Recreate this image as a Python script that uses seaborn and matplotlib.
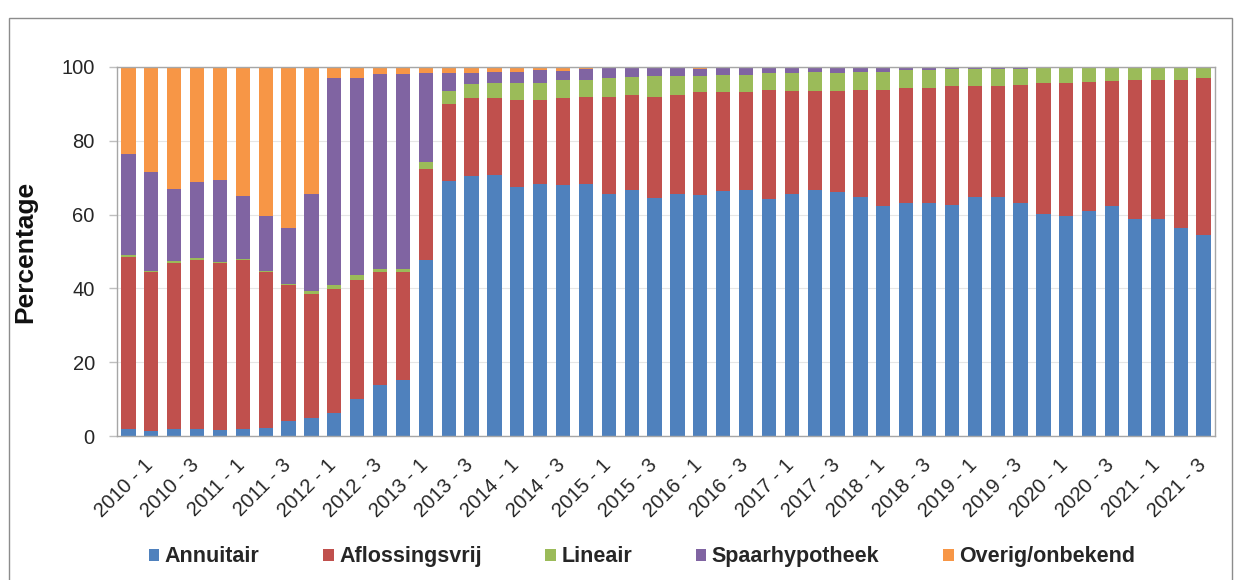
import numpy as np
import pandas as pd
import seaborn as sns
import matplotlib.pyplot as plt
from matplotlib.patches import Patch, Rectangle
from matplotlib.transforms import ScaledTranslation

# quarters 2010-1 .. 2021-4
jaren = list(range(2010, 2022))
kwartalen = [f"{j} - {k}" for j in jaren for k in range(1, 5)]

annuitair = [1.8, 1.4, 1.8, 1.8, 1.6, 2.0, 2.3, 4.1, 5.0, 6.3, 10.0, 13.9,
             15.1, 47.8, 69.0, 70.4, 70.7, 67.5, 68.2, 68.1, 68.4, 65.7, 66.6, 64.5,
             65.5, 65.2, 66.3, 66.6, 64.3, 65.5, 66.6, 66.1, 64.8, 62.2, 63.1, 63.1,
             62.7, 64.8, 64.8, 63.1, 60.2, 59.6, 61.0, 62.2, 58.7, 58.9, 56.4, 54.5]
aflossingsvrij = [46.7, 43.0, 45.1, 46.0, 45.3, 45.7, 42.1, 36.8, 33.5, 33.6, 32.3, 30.5,
                  29.3, 24.5, 21.1, 21.1, 20.8, 23.5, 22.8, 23.4, 23.5, 26.2, 25.8, 27.4,
                  26.9, 28.1, 27.0, 26.7, 29.5, 28.0, 26.9, 27.4, 29.1, 31.6, 31.3, 31.3,
                  32.1, 30.0, 30.0, 32.1, 35.4, 36.0, 35.0, 34.0, 37.8, 37.7, 40.2, 42.4]
lineair = [0.5, 0.3, 0.4, 0.4, 0.3, 0.2, 0.3, 0.4, 0.9, 0.9, 1.4, 0.9,
           0.9, 2.0, 3.5, 3.8, 4.2, 4.7, 4.7, 5.1, 4.7, 5.2, 5.0, 5.7,
           5.2, 4.3, 4.5, 4.5, 4.5, 4.8, 5.2, 5.0, 4.8, 4.9, 4.8, 4.8,
           4.6, 4.6, 4.6, 4.3, 4.0, 4.0, 3.8, 3.6, 3.3, 3.2, 3.2, 2.9]
spaarhypotheek = [27.5, 26.9, 19.7, 20.5, 22.1, 17.1, 14.9, 15.0, 26.1, 56.1, 53.2, 52.7,
                  52.7, 24.0, 4.9, 3.2, 3.0, 3.0, 3.5, 2.4, 2.8, 2.5, 2.2, 2.0,
                  2.0, 1.8, 1.8, 1.8, 1.3, 1.4, 1.0, 1.2, 1.1, 1.1, 0.7, 0.7,
                  0.5, 0.5, 0.5, 0.4, 0.3, 0.3, 0.1, 0.1, 0.1, 0.1, 0.1, 0.1]
overig = [23.5, 28.4, 33.0, 31.3, 30.7, 35.0, 40.4, 43.7, 34.5, 3.1, 3.1, 2.0,
          2.0, 1.7, 1.5, 1.5, 1.3, 1.3, 0.8, 1.0, 0.6, 0.4, 0.4, 0.4,
          0.4, 0.6, 0.4, 0.4, 0.4, 0.3, 0.3, 0.3, 0.2, 0.2, 0.1, 0.1,
          0.1, 0.1, 0.1, 0.1, 0.1, 0.1, 0.1, 0.1, 0.1, 0.1, 0.1, 0.1]

reeksen = ["Annuitair", "Aflossingsvrij", "Lineair", "Spaarhypotheek", "Overig/onbekend"]
kleuren = ["#4F81BD", "#C0504D", "#9BBB59", "#8064A2", "#F79646"]

df = pd.DataFrame({"kwartaal": kwartalen, "Annuitair": annuitair,
                   "Aflossingsvrij": aflossingsvrij, "Lineair": lineair,
                   "Spaarhypotheek": spaarhypotheek, "Overig/onbekend": overig})

sns.set_style("white")
plt.rcParams['font.family'] = ['Liberation Sans', 'DejaVu Sans']

fig = plt.figure(figsize=(12.39, 5.80), dpi=100)
ax = fig.add_axes([117 / 1239, 1 - 436 / 580, (1215 - 117) / 1239, (436 - 67) / 580])

onder = np.zeros(len(df))
for naam, kleur in zip(reeksen, kleuren):
    sns.barplot(data=df, x="kwartaal", y=naam, bottom=onder, color=kleur,
                width=0.62, saturation=1, errorbar=None, ax=ax, zorder=2,
                edgecolor="none", linewidth=0)
    onder = onder + df[naam].to_numpy()

ax.set_xlim(-0.5, len(df) - 0.5)
ax.set_ylim(0, 100)
ax.set_yticks(np.arange(0, 101, 20))
ax.yaxis.grid(True, color="#E6E6E6", lw=0.8, zorder=0)
ax.set_axisbelow(True)

# labels on every second quarter
ax.set_xticks(np.arange(0, len(df), 2))
ax.set_xticklabels(kwartalen[::2], rotation=45, ha="right", va="center",
                   rotation_mode="anchor", fontsize=14.5, color="#262626")
ax.set_xticks(np.arange(-0.5, len(df), 1), minor=True)
ax.tick_params(axis="x", which="major", length=0, pad=19)
ax.tick_params(axis="x", which="minor", length=6, width=1, color="#A6A6A6", direction="out")
ax.tick_params(axis="y", length=6, width=1, color="#BFBFBF", pad=10,
               labelsize=14.5, labelcolor="#262626", left=True)
verschuif = ScaledTranslation(0.22, 0, fig.dpi_scale_trans)
for lab in ax.get_xticklabels():
    lab.set_transform(lab.get_transform() + verschuif)

ax.set_xlabel("")
ax.set_ylabel("Percentage", fontsize=19, fontweight="bold", color="#111111")
ax.yaxis.set_label_coords(-0.073, 0.5)

for s in ax.spines.values():
    s.set_color("#A6A6A6")
    s.set_linewidth(1)

handles = [Patch(facecolor=k, edgecolor="none", label=n) for n, k in zip(reeksen, kleuren)]
fig.legend(handles=handles, loc="center", bbox_to_anchor=(0.518, 0.04), ncol=5,
           frameon=False, handlelength=0.5, handleheight=0.5, handletextpad=0.25,
           columnspacing=2.95, prop={"size": 15.5, "weight": "bold"})

fig.patches.append(Rectangle((9 / 1239, -0.02), (1232 - 9) / 1239, 1.0045 - 9 / 580,
                             transform=fig.transFigure, fill=False,
                             edgecolor="#8C8C8C", lw=1))

fig.savefig("out.png", dpi=100)
